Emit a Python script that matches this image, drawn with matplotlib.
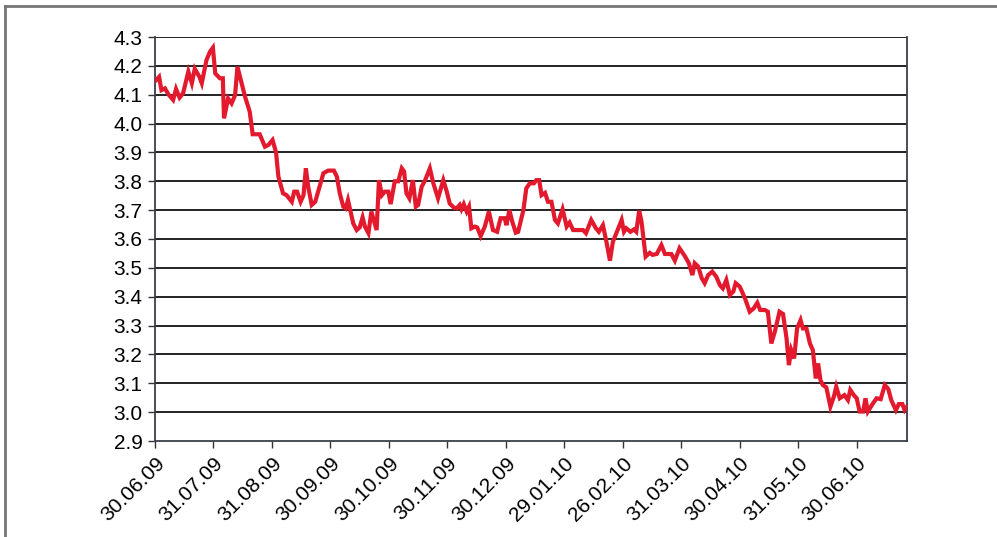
import matplotlib
matplotlib.use("Agg")
import matplotlib.pyplot as plt
from matplotlib.lines import Line2D

# month offsets from 30.06.09 (one tick per month end) and the traced series
t_months = [
    0.02, 0.07, 0.11, 0.17, 0.23, 0.31, 0.36, 0.42, 0.48, 0.57, 0.63, 0.68, 0.76, 0.80,
    0.85, 0.88, 0.94, 0.99, 1.03, 1.11, 1.16, 1.18, 1.25, 1.31, 1.37, 1.41, 1.54, 1.62,
    1.67, 1.79, 1.88, 1.94, 2.01, 2.07, 2.11, 2.19, 2.25, 2.34, 2.38, 2.43, 2.49, 2.54,
    2.58, 2.62, 2.68, 2.74, 2.88, 2.96, 3.06, 3.11, 3.16, 3.22, 3.26, 3.30, 3.39, 3.45,
    3.50, 3.55, 3.59, 3.65, 3.70, 3.74, 3.79, 3.83, 3.88, 3.93, 3.99, 4.03, 4.10, 4.16,
    4.22, 4.26, 4.30, 4.35, 4.41, 4.46, 4.50, 4.56, 4.62, 4.70, 4.76, 4.84, 4.93, 4.99,
    5.04, 5.11, 5.16, 5.21, 5.24, 5.28, 5.33, 5.37, 5.41, 5.47, 5.51, 5.57, 5.64, 5.71,
    5.78, 5.85, 5.91, 5.98, 6.01, 6.06, 6.11, 6.17, 6.21, 6.30, 6.35, 6.41, 6.48, 6.52,
    6.57, 6.61, 6.67, 6.72, 6.78, 6.84, 6.89, 6.97, 7.04, 7.09, 7.15, 7.26, 7.32, 7.37,
    7.46, 7.54, 7.59, 7.66, 7.72, 7.78, 7.83, 7.90, 7.98, 8.02, 8.06, 8.13, 8.19, 8.23,
    8.28, 8.32, 8.39, 8.46, 8.51, 8.58, 8.66, 8.72, 8.83, 8.89, 8.97, 9.06, 9.13, 9.19,
    9.23, 9.29, 9.35, 9.40, 9.46, 9.53, 9.60, 9.66, 9.71, 9.77, 9.83, 9.89, 9.93, 10.00,
    10.09, 10.17, 10.24, 10.30, 10.35, 10.43, 10.48, 10.54, 10.60, 10.68, 10.74, 10.80,
    10.84, 10.88, 10.93, 10.98, 11.04, 11.08, 11.14, 11.20, 11.25, 11.30, 11.34, 11.38,
    11.42, 11.48, 11.55, 11.61, 11.65, 11.71, 11.79, 11.85, 11.89, 11.95, 12.00, 12.05,
    12.11, 12.15, 12.19, 12.28, 12.34, 12.41, 12.48, 12.54, 12.59, 12.67, 12.72, 12.78,
    12.82, 12.86,
]
values = [
    4.151, 4.162, 4.116, 4.122, 4.101, 4.082, 4.120, 4.090, 4.105, 4.180, 4.140, 4.190, 4.162, 4.140,
    4.190, 4.220, 4.249, 4.263, 4.174, 4.157, 4.157, 4.018, 4.087, 4.070, 4.099, 4.197, 4.093, 4.041,
    3.963, 3.963, 3.920, 3.926, 3.943, 3.900, 3.816, 3.758, 3.752, 3.729, 3.764, 3.764, 3.729, 3.752,
    3.845, 3.781, 3.718, 3.729, 3.828, 3.837, 3.837, 3.816, 3.758, 3.712, 3.706, 3.735, 3.654, 3.631,
    3.640, 3.675, 3.643, 3.620, 3.695, 3.666, 3.631, 3.804, 3.752, 3.764, 3.764, 3.721, 3.800, 3.800,
    3.845, 3.834, 3.758, 3.741, 3.804, 3.712, 3.718, 3.781, 3.804, 3.845, 3.793, 3.741, 3.804, 3.764,
    3.723, 3.709, 3.706, 3.718, 3.703, 3.721, 3.695, 3.712, 3.637, 3.643, 3.640, 3.610, 3.643, 3.695,
    3.631, 3.625, 3.672, 3.672, 3.648, 3.700, 3.660, 3.622, 3.625, 3.700, 3.776, 3.793, 3.793, 3.804,
    3.804, 3.752, 3.760, 3.729, 3.729, 3.666, 3.654, 3.703, 3.643, 3.657, 3.631, 3.631, 3.631, 3.620,
    3.666, 3.637, 3.625, 3.648, 3.590, 3.525, 3.590, 3.625, 3.666, 3.625, 3.637, 3.625, 3.633, 3.625,
    3.698, 3.660, 3.539, 3.552, 3.545, 3.548, 3.579, 3.548, 3.548, 3.525, 3.568, 3.541, 3.516, 3.475,
    3.516, 3.504, 3.464, 3.447, 3.475, 3.487, 3.469, 3.440, 3.429, 3.458, 3.406, 3.418, 3.447, 3.435,
    3.394, 3.348, 3.360, 3.379, 3.354, 3.354, 3.348, 3.238, 3.279, 3.348, 3.340, 3.256,
    3.163, 3.215, 3.186, 3.290, 3.319, 3.290, 3.290, 3.238, 3.215, 3.117, 3.169, 3.111,
    3.094, 3.086, 3.019, 3.054, 3.088, 3.048, 3.059, 3.042, 3.077, 3.059, 3.048, 3.002,
    3.002, 3.048, 3.002, 3.031, 3.048, 3.045, 3.094, 3.080, 3.042, 3.007, 3.028, 3.028,
    3.007, 3.019,
]
tick_labels = ["30.06.09", "31.07.09", "31.08.09", "30.09.09", "30.10.09", "30.11.09",
               "30.12.09", "29.01.10", "26.02.10", "31.03.10", "30.04.10", "31.05.10",
               "30.06.10"]
y_ticks = [2.9, 3.0, 3.1, 3.2, 3.3, 3.4, 3.5, 3.6, 3.7, 3.8, 3.9, 4.0, 4.1, 4.2, 4.3]

plt.rcParams['font.family'] = ['Liberation Sans', 'DejaVu Sans']

fig = plt.figure(figsize=(9.97, 5.37), dpi=100)
ax = fig.add_axes([155 / 997, 1 - 441 / 537, 752 / 997, 404 / 537])

ax.plot(t_months, values, color='#e3192d', lw=3.0, solid_joinstyle='miter', zorder=3)

ax.set_xlim(0, 12.86)
ax.set_ylim(2.9, 4.3)
ax.set_yticks(y_ticks)
ax.set_yticklabels([f"{v:.1f}" for v in y_ticks], fontsize=15)
ax.set_xticks(range(len(tick_labels)))
ax.set_xticklabels(tick_labels, rotation=45, ha='right', rotation_mode='anchor', fontsize=15)

# horizontal grid lines, black like the original
for v in y_ticks[1:]:
    ax.axhline(v, color='#111111', lw=1.3, zorder=1)

ax.tick_params(axis='both', direction='out', length=5, width=1, color='#333333', pad=4)
for side in ['left', 'bottom', 'right']:
    ax.spines[side].set_color('#3a3f4a')
    ax.spines[side].set_linewidth(1.3)
ax.spines['top'].set_visible(False)

# outer frame (top and left edges)
fig.add_artist(Line2D([5 / 997, 1], [1 - 6 / 537, 1 - 6 / 537], transform=fig.transFigure,
                      color='#777777', lw=2))
fig.add_artist(Line2D([5 / 997, 5 / 997], [0, 1 - 6 / 537], transform=fig.transFigure,
                      color='#777777', lw=2))

fig.savefig('out.png', dpi=100)
